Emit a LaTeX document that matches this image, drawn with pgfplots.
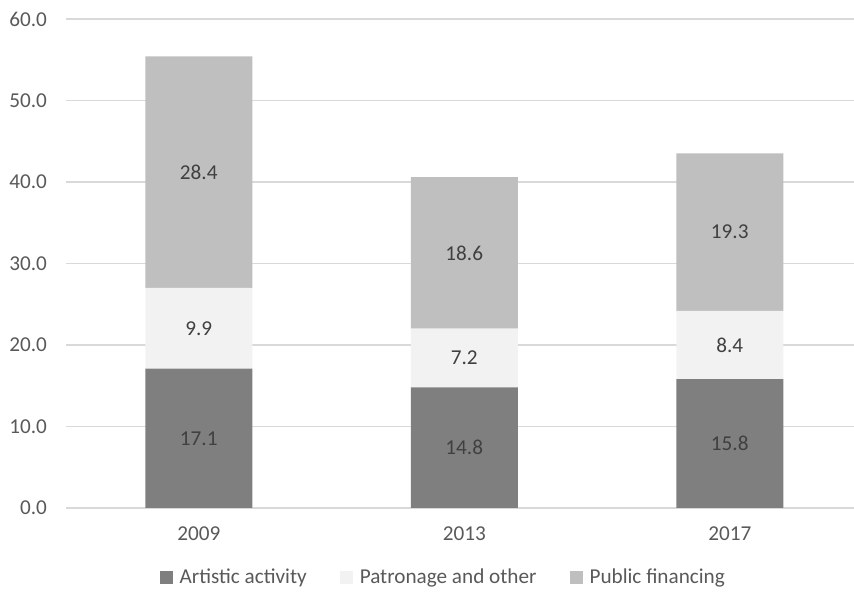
\documentclass[border=0pt]{standalone}
\usepackage{pgfplots}
\pgfplotsset{compat=1.18}
\usepackage{fontspec}
\setmainfont{Carlito}
\definecolor{cA}{HTML}{7F7F7F}
\definecolor{cB}{HTML}{F2F2F2}
\definecolor{cC}{HTML}{BFBFBF}
\definecolor{txt}{HTML}{595959}
\definecolor{lbl}{HTML}{404040}
\definecolor{grd}{HTML}{D9D9D9}
\begin{document}
\begin{tikzpicture}
\useasboundingbox (0,0) rectangle (427pt,296pt);
\begin{axis}[
  at={(33pt,42pt)}, anchor=south west,
  scale only axis,
  x=132.75pt, y=4.075pt,
  xmin=-0.5, xmax=2.468, ymin=0, ymax=60,
  ybar stacked, bar width=0.403,
  axis line style={draw=none},
  ymajorgrids, grid style={grd, line width=0.75pt},
  ytick={0,10,...,60},
  xtick={0,1,2}, xticklabels={2009,2013,2017},
  major tick length=0pt,
  tick label style={font=\fontsize{10.6}{12}\selectfont, text=txt},
  yticklabel style={xshift=-6pt},
  xticklabel style={yshift=-6pt},
  /pgf/number format/assume math mode=true,
  yticklabel={\pgfmathprintnumber[fixed,fixed zerofill,precision=1]{\tick}},
  point meta=rawy,
  nodes near coords={\pgfmathprintnumber[fixed,fixed zerofill,precision=1]{\pgfplotspointmeta}},
  every node near coord/.append style={anchor=center, font=\fontsize{10.6}{12}\selectfont, text=lbl},
  legend columns=3,
  legend style={draw=none, fill=none, at={(0.48,-0.143)}, anchor=center, font=\fontsize{10.6}{12}\selectfont, text=txt,
    /tikz/every even column/.append style={column sep=14.5pt},
    /tikz/every odd column/.append style={column sep=1.5pt}},
  legend image code/.code={\fill[#1] (-0.5pt,-3.25pt) rectangle (6pt,3.25pt);},
]
\addplot[fill=cA, draw=none] coordinates {(0,17.1) (1,14.8) (2,15.8)};
\addplot[fill=cB, draw=none] coordinates {(0,9.9) (1,7.2) (2,8.4)};
\addplot[fill=cC, draw=none] coordinates {(0,28.4) (1,18.6) (2,19.3)};
\legend{Artistic activity, Patronage and other, Public financing}
\end{axis}
\end{tikzpicture}
\end{document}
